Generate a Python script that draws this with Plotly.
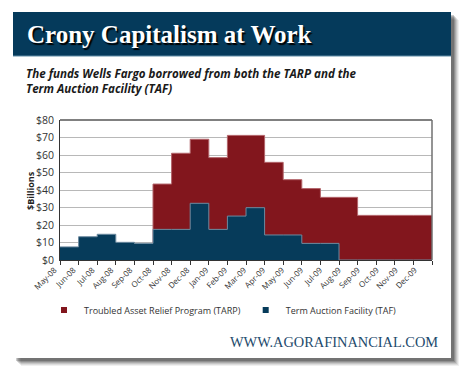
import plotly.graph_objects as go

months = ["May-08", "Jun-08", "Jul-08", "Aug-08", "Sep-08", "Oct-08", "Nov-08", "Dec-08",
          "Jan-09", "Feb-09", "Mar-09", "Apr-09", "May-09", "Jun-09", "Jul-09", "Aug-09",
          "Sep-09", "Oct-09", "Nov-09", "Dec-09"]
# visible top of the TARP (red) area, $ billions
tarp = [0, 0, 0, 0, 0, 43.4, 61.0, 69.0, 58.5, 71.2, 71.2, 55.8, 45.9, 40.8, 35.8, 35.8,
        25.5, 25.5, 25.5, 25.5]
# Term Auction Facility (blue) area, $ billions
taf = [7.5, 13.3, 14.7, 10.1, 9.5, 17.5, 17.5, 32.4, 17.5, 25.1, 29.9, 14.3, 14.3, 9.5, 9.5,
       0, 0, 0, 0, 0]
y_ticks = [0, 10, 20, 30, 40, 50, 60, 70, 80]

W, H = 470, 378
RED = "#82161d"
BLUE = "#063b5a"
HEADER = "#053a5b"

def px(x):
    return x / W

def py(y):
    return 1 - y / H

# step x positions: each month occupies [i, i+1]
xs = list(range(len(months) + 1))
tarp_s = tarp + [tarp[-1]]
taf_s = taf + [taf[-1]]

fig = go.Figure()
fig.add_trace(go.Scatter(x=xs, y=tarp_s, mode="lines", line=dict(shape="hv", color="#b2646a", width=1),
                         fill="tozeroy", fillcolor=RED, showlegend=False, hoverinfo="skip"))
fig.add_trace(go.Scatter(x=xs, y=taf_s, mode="lines", line=dict(shape="hv", color="#6d8ba0", width=1),
                         fill="tozeroy", fillcolor=BLUE, showlegend=False, hoverinfo="skip"))
# legend entries
fig.add_trace(go.Scatter(x=[None], y=[None], mode="markers", name="Troubled Asset Relief Program (TARP)",
                         marker=dict(symbol="square", size=6, color=RED)))
fig.add_trace(go.Scatter(x=[None], y=[None], mode="markers", name="Term Auction Facility (TAF)",
                         marker=dict(symbol="square", size=6, color=BLUE)))
# carrier for the month label axis
fig.add_trace(go.Scatter(x=[0], y=[0], xaxis="x2", mode="markers", marker=dict(opacity=0),
                         showlegend=False, hoverinfo="skip"))

x0, x1 = 60, 432
ytop, ybot = 120, 260

fig.update_layout(
    template="none",
    width=W, height=H,
    margin=dict(l=0, r=0, t=0, b=0, pad=0),
    paper_bgcolor="white", plot_bgcolor="white",
    font=dict(family="Open Sans", color="#333333"),
    xaxis=dict(domain=[px(x0), px(x1)], range=[0, len(months)], tickvals=xs, showticklabels=False,
               ticks="outside", ticklen=4, tickcolor="#333333", tickwidth=1, automargin=False,
               showline=True, linecolor="#333333", linewidth=1, showgrid=False, zeroline=False),
    xaxis2=dict(overlaying="x", anchor="y", side="bottom", domain=[px(x0), px(x1)],
                range=[-0.02, 19.6], tickvals=list(range(len(months))), ticktext=months,
                tickangle=-45, tickfont=dict(size=8, color="#333333"), ticks="", showline=False,
                showgrid=False, zeroline=False, ticklabelstandoff=3, ticklabelshift=-6,
                automargin=False),
    yaxis=dict(domain=[1 - ybot / H, 1 - ytop / H], range=[0, 80], tickvals=y_ticks,
               ticktext=["$%d" % v for v in y_ticks], tickfont=dict(size=10.5, color="#333333"),
               showgrid=True, gridcolor="#b8b8b8", gridwidth=1, zeroline=False, automargin=False,
               showline=True, linecolor="#333333", linewidth=1, ticks="", ticklabelstandoff=3),
    legend=dict(orientation="h", x=px(44), y=py(310), yanchor="middle", xanchor="left",
                font=dict(size=9, color="#333333"), itemwidth=30, bgcolor="rgba(0,0,0,0)"),
)

shapes = []
# drop shadow of card
for i, op in enumerate([0.06, 0.08, 0.10, 0.13, 0.16, 0.2]):
    off = 8 - i
    shapes.append(dict(type="rect", xref="paper", yref="paper", x0=px(13 + off), x1=px(451 + off),
                       y0=py(358 + off), y1=py(12 + off), fillcolor="rgba(0,0,0,%.2f)" % op,
                       line=dict(width=0), layer="below"))
# card
shapes.append(dict(type="rect", xref="paper", yref="paper", x0=px(13), x1=px(451), y0=py(358), y1=py(12),
                   fillcolor="white", line=dict(width=0), layer="below"))
# header
shapes.append(dict(type="rect", xref="paper", yref="paper", x0=px(13), x1=px(451), y0=py(56), y1=py(12),
                   fillcolor=HEADER, line=dict(width=0), layer="below"))
shapes.append(dict(type="line", xref="paper", yref="paper", x0=px(13), x1=px(451), y0=py(56), y1=py(56),
                   line=dict(color="#5f8ba6", width=1)))
# plot frame: top and right
shapes.append(dict(type="line", xref="x domain", yref="y domain", x0=0, x1=1, y0=1, y1=1,
                   line=dict(color="#808080", width=2)))
shapes.append(dict(type="line", xref="x domain", yref="y domain", x0=1, x1=1, y0=0, y1=1,
                   line=dict(color="#707070", width=1.5)))
fig.update_layout(shapes=shapes)

ann = []
title = "Crony Capitalism at Work"
ann.append(dict(text=title, xref="paper", yref="paper", x=px(25), y=py(34), xanchor="left",
                yanchor="middle", showarrow=False,
                font=dict(family="Liberation Serif", size=25, color="#ffffff", weight=700,
                          shadow="1.5px 1.5px 1px #000000")))
ann.append(dict(text="<b><i>The funds Wells Fargo borrowed from both the TARP and the<br>Term Auction Facility (TAF)</i></b>",
                xref="paper", yref="paper", x=px(24), y=py(81), xanchor="left", yanchor="middle",
                align="left", showarrow=False,
                font=dict(family="Open Sans", size=11.6, color="#1a1a1a")))
ann.append(dict(text="<b>$Billions</b>", xref="paper", yref="paper", x=px(30), y=py(190),
                xanchor="center", yanchor="middle", textangle=-90, showarrow=False,
                font=dict(family="Open Sans", size=9, color="#222222")))
ann.append(dict(text="WWW.AGORAFINANCIAL.COM", xref="paper", yref="paper", x=px(440), y=py(342),
                xanchor="right", yanchor="middle", showarrow=False,
                font=dict(family="Liberation Serif", size=14.4, color="#1d4a6c")))
fig.update_layout(annotations=ann)

fig.write_html("out.html", config={"displayModeBar": False},
               post_script="document.body.style.margin='0';document.body.style.overflow='hidden';")
